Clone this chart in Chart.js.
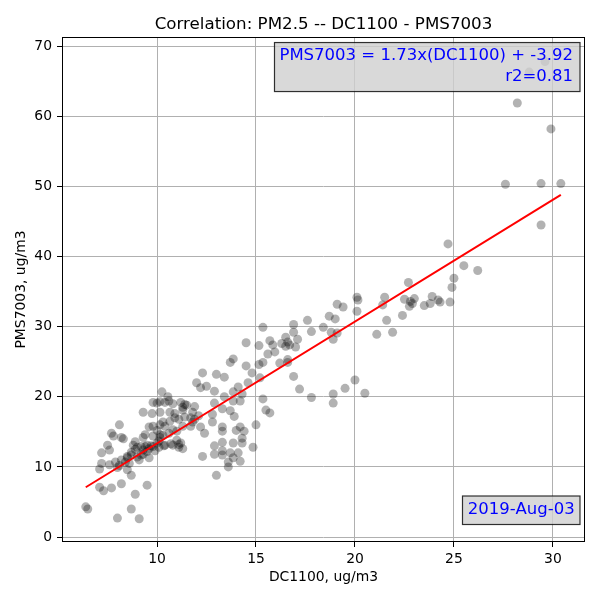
<!DOCTYPE html>
<html>
<head>
<meta charset="utf-8">
<script src="https://cdn.jsdelivr.net/npm/chart.js@4"></script>
<style>
html,body{margin:0;padding:0;background:#fff;}
canvas{display:block;}
</style>
</head>
<body>
<canvas id="c" width="600" height="600"></canvas>
<script>
const titleText = "Correlation: PM2.5 -- DC1100 - PMS7003";
const xLabel = "DC1100, ug/m3";
const yLabel = "PMS7003, ug/m3";
const equationLines = ["PMS7003 = 1.73x(DC1100) + -3.92", "r2=0.81"];
const dateText = "2019-Aug-03";
const xTicks = [10, 15, 20, 25, 30];
const yTicks = [0, 10, 20, 30, 40, 50, 60, 70];

// DC1100 readings (x) and PMS7003 readings (y)
const dc1100 = [
 6.4,6.5,7.1,7.3,7.7,8.2,8.7,8.9,9.5,8.7,8.0,9.1,7.1,7.2,7.2,7.5,7.6,7.7,7.8,8.1,8.2,8.3,7.6,7.9,8.0,8.1,8.4,8.5,8.7,8.8,8.9,9.1,9.2,9.3,8.5,8.6,8.2,8.5,8.7,8.9,9.0,9.2,9.5,9.7,10.0,10.15,10.3,10.6,9.6,9.8,10.15,9.3,9.0,9.3,9.8,10.15,9.4,9.6,9.8,10.1,10.4,10.7,9.9,9.5,
 10.25,10.55,9.8,10.0,10.15,9.3,9.75,10.15,10.65,10.9,11.2,11.3,11.5,10.4,10.6,10.8,11.3,11.4,10.3,10.65,10.9,11.1,11.4,11.7,11.8,10.0,10.4,10.8,11.0,11.3,11.7,9.4,10.1,10.35,10.8,11.1,11.3,9.6,11.0,11.1,11.2,11.9,12.1,11.9,11.8,
 12.3,13.0,13.4,12.0,12.2,12.5,12.9,13.4,13.85,14.1,13.85,14.2,14.3,12.9,13.3,13.7,13.9,12.8,12.8,13.3,13.3,14.0,14.2,14.4,12.4,12.2,14.3,14.3,13.85,13.3,14.85,12.9,12.9,13.3,13.3,12.3,13.7,13.85,14.1,14.2,13.6,13.6,13.0,13.7,13.85,14.5,14.8,14.6,15.2,15.15,15.35,14.5,15.0,15.5,15.7,15.35,
 15.15,15.7,15.85,15.95,15.6,16.5,16.6,16.7,17.0,17.1,16.9,16.2,16.6,16.9,17.2,15.35,16.9,16.5,16.6,16.3,17.6,17.8,18.4,18.8,19.1,18.9,18.7,19.0,19.1,19.4,20.1,20.15,20.1,17.8,18.9,18.9,19.5,20.0,20.5,
 21.1,21.6,21.9,22.4,21.4,21.5,22.7,22.5,22.8,23.0,22.9,22.75,23.5,23.8,23.9,24.2,24.3,24.8,24.9,25.0,24.7,25.5,26.2,
 27.6,29.4,30.4,28.2,29.9,29.4,29.6,28.8
];
const pms7003 = [
 4.3,4.0,7.1,6.6,7.0,7.6,8.8,6.1,7.4,4.0,2.7,2.6,9.7,10.5,12.0,13.1,12.4,14.8,14.4,16.0,14.2,14.0,10.3,10.7,9.9,10.2,10.7,11.3,11.7,13.1,13.6,11.0,11.7,12.4,9.6,10.5,11.0,11.5,12.1,12.5,12.8,12.9,13.1,13.0,13.4,14.2,14.5,14.8,15.7,15.8,16.0,11.8,11.4,14.2,14.4,14.6,12.9,12.6,12.9,12.8,13.1,13.3,12.3,12.2,
 20.7,20.0,19.2,19.1,19.3,17.8,17.6,17.8,17.8,17.6,19.2,18.1,18.8,19.2,19.4,19.0,18.5,18.9,16.4,16.5,17.0,16.8,17.1,17.0,16.4,15.2,15.8,15.3,15.1,15.8,15.8,14.6,13.7,13.0,13.1,13.2,12.6,11.3,13.8,12.8,13.4,18.6,17.3,16.8,17.8,
 23.4,23.2,22.8,22.0,21.3,21.5,20.8,20.0,20.7,21.4,19.4,19.4,20.4,19.1,18.3,18.0,17.2,17.5,16.4,15.7,15.1,15.2,15.7,15.1,14.8,15.7,14.1,13.4,13.4,13.5,12.8,13.0,11.8,11.7,12.3,11.5,12.0,11.3,12.0,10.8,10.7,10.0,8.8,24.9,25.4,24.4,23.4,22.0,22.7,24.6,24.9,27.7,16.0,18.1,17.7,19.7,
 27.3,28.0,27.4,26.4,26.1,28.5,27.8,27.4,27.1,28.2,29.2,24.8,24.9,22.9,21.1,29.9,30.3,27.2,25.3,27.6,30.9,29.3,29.9,29.2,29.1,28.2,31.5,31.1,33.2,32.8,34.2,33.8,32.2,19.9,20.4,19.1,21.2,22.4,20.5,
 28.9,30.9,29.2,31.6,33.1,34.2,36.3,33.9,33.6,34.0,33.3,32.9,33.0,33.3,34.3,33.8,33.5,33.5,35.6,36.9,41.8,38.7,38.0,
 50.3,50.4,50.4,61.9,58.2,44.5,67.8,66.3
];
// fitted line end points as drawn in the picture
const fitX = [6.4, 30.4];
const fitY = [7.1, 48.8];

const FONT = "'DejaVu Sans', sans-serif";

const boxPlugin = {
  id: 'boxes',
  afterDatasetsDraw(chart) {
    const ctx = chart.ctx;
    const a = chart.chartArea;
    ctx.save();
    // axes frame
    ctx.strokeStyle = '#000';
    ctx.lineWidth = 1;
    ctx.strokeRect(Math.round(a.left) + 0.5, Math.round(a.top) + 0.5, Math.round(a.right - a.left) - 1, Math.round(a.bottom - a.top) - 1);
    ctx.font = "16.5px " + FONT;
    ctx.textAlign = 'right';
    ctx.textBaseline = 'middle';
    function box(x0, y0, x1, y1) {
      ctx.fillStyle = 'rgba(208,208,208,0.8)';
      ctx.fillRect(x0, y0, x1 - x0, y1 - y0);
      ctx.strokeStyle = 'rgba(0,0,0,0.8)';
      ctx.lineWidth = 1.2;
      ctx.strokeRect(x0, y0, x1 - x0, y1 - y0);
    }
    const r = a.right - 5;
    box(274.5, a.top + 5.5, r, a.top + 54.5);
    ctx.fillStyle = '#0000ff';
    ctx.fillText(equationLines[0], r - 7, a.top + 18.5);
    ctx.fillText(equationLines[1], r - 7, a.top + 39.5);
    box(462.5, a.bottom - 46, r, a.bottom - 17.5);
    ctx.fillStyle = '#0000ff';
    ctx.textAlign = 'center';
    ctx.fillText(dateText, (462.5 + r) / 2, a.bottom - 32);
    ctx.restore();
  }
};

new Chart(document.getElementById('c'), {
  type: 'scatter',
  data: {
    datasets: [
      {
        type: 'line',
        data: fitX.map((x, i) => ({x: x, y: fitY[i]})),
        borderColor: '#ff0000',
        borderWidth: 2,
        pointRadius: 0,
        fill: false,
        order: 0
      },
      {
        data: dc1100.map((x, i) => ({x: x, y: pms7003[i]})),
        backgroundColor: 'rgba(0,0,0,0.3)',
        borderWidth: 0,
        pointRadius: 4.5,
        pointHoverRadius: 4.5,
        order: 1
      }
    ]
  },
  options: {
    responsive: false,
    animation: false,
    events: [],
    layout: {padding: {left: 0, right: 15, top: 0, bottom: 0}},
    plugins: {
      legend: {display: false},
      tooltip: {enabled: false},
      title: {
        display: true,
        text: titleText,
        fullSize: false,
        color: '#000',
        font: {family: FONT, size: 16.7, weight: 'normal', lineHeight: 1.2},
        padding: {top: 15, bottom: 2}
      }
    },
    scales: {
      x: {
        type: 'linear',
        min: 5.2,
        max: 31.62,
        afterBuildTicks: s => { s.ticks = xTicks.map(v => ({value: v})); },
        afterFit: s => { s.height = 58; },
        ticks: {color: '#000', font: {family: FONT, size: 13.9}, padding: 4.5, maxRotation: 0},
        grid: {color: '#b0b0b0', lineWidth: 1, tickColor: '#000', tickLength: 5, tickWidth: 1},
        border: {display: false},
        title: {display: true, text: xLabel, color: '#000', font: {family: FONT, size: 13.9, lineHeight: 1.2}, padding: {top: 0, bottom: 14}}
      },
      y: {
        type: 'linear',
        min: -0.71,
        max: 71.3,
        afterBuildTicks: s => { s.ticks = yTicks.map(v => ({value: v})); },
        afterFit: s => { s.width = 62; },
        ticks: {color: '#000', font: {family: FONT, size: 13.9}, padding: 5},
        grid: {color: '#b0b0b0', lineWidth: 1, tickColor: '#000', tickLength: 5, tickWidth: 1},
        border: {display: false},
        title: {display: true, text: yLabel, color: '#000', font: {family: FONT, size: 13.9, lineHeight: 1.2}, padding: {top: 13.4, bottom: 0}}
      }
    }
  },
  plugins: [boxPlugin]
});
</script>
</body>
</html>
